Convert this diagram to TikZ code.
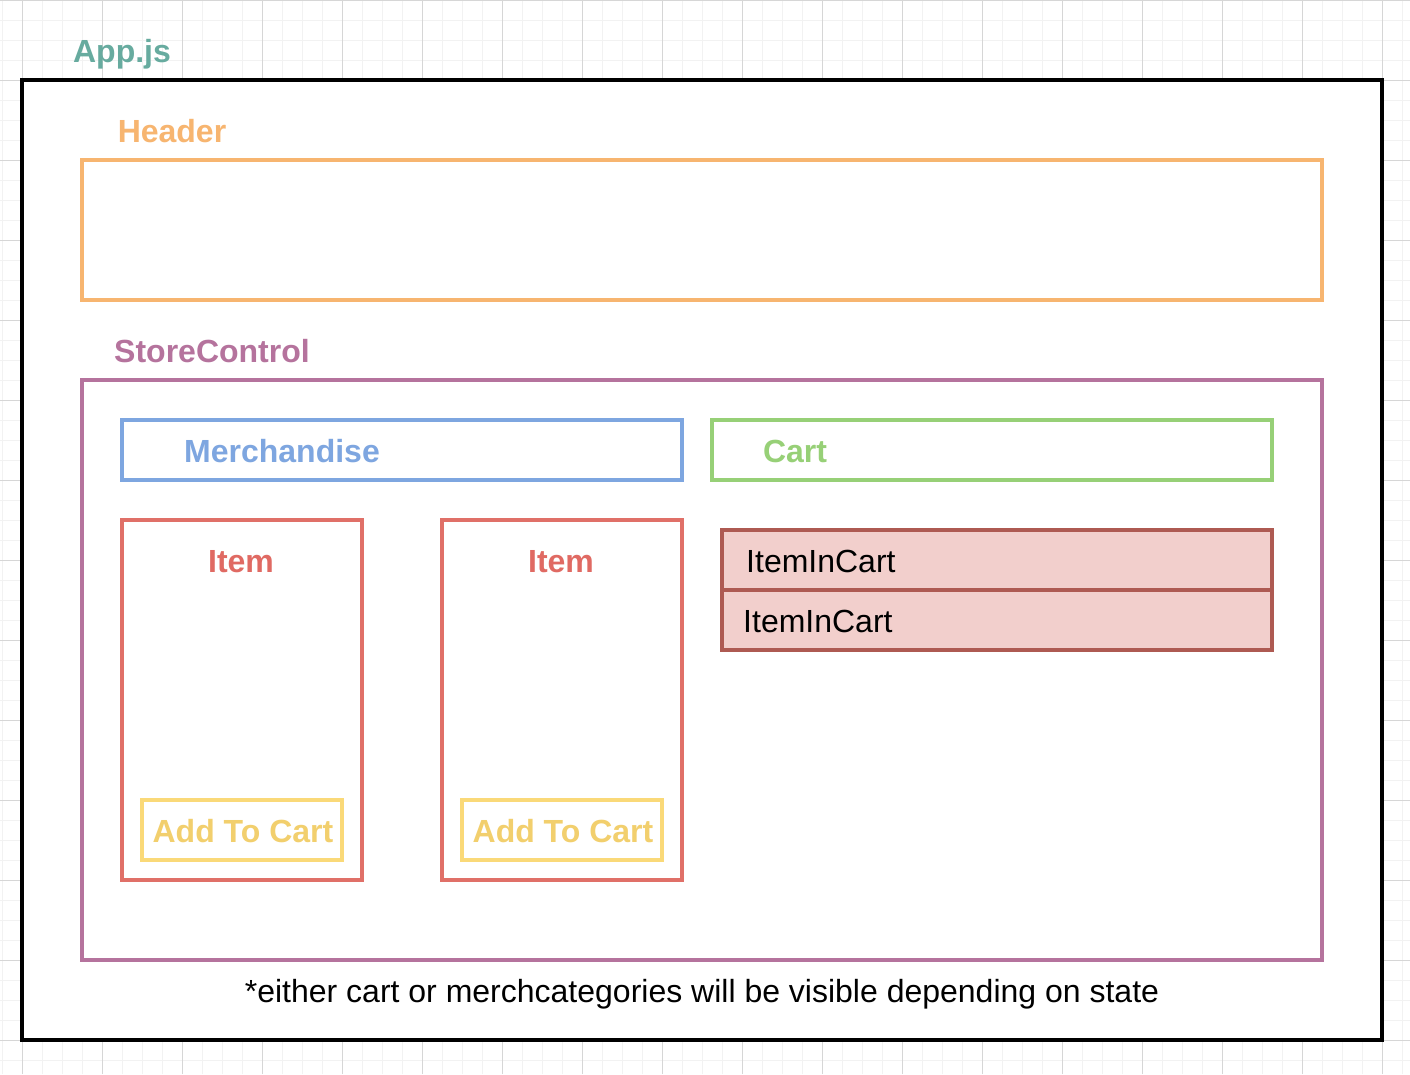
\documentclass[tikz,border=0pt]{standalone}
\usepackage{fontspec}
\setmainfont{Liberation Sans}
\definecolor{gridminor}{HTML}{F2F2F2}
\definecolor{gridmajor}{HTML}{D6D6D6}
\definecolor{appc}{HTML}{67AB9F}
\definecolor{headc}{HTML}{F7B570}
\definecolor{storec}{HTML}{B5739D}
\definecolor{merchc}{HTML}{7EA6E0}
\definecolor{cartc}{HTML}{97D077}
\definecolor{itemc}{HTML}{E07068}
\definecolor{itemtxt}{HTML}{E06A63}
\definecolor{addc}{HTML}{FAD978}
\definecolor{addtxt}{HTML}{F2CF6D}
\definecolor{iicfill}{HTML}{F2CFCC}
\definecolor{iicdraw}{HTML}{AE5A52}
\tikzset{
  box/.style={draw, line width=3.5pt, minimum width=#1, inner sep=0pt},
  lbl/.style={anchor=base, inner sep=0pt, font=\bfseries\fontsize{32}{38}\selectfont},
  plain/.style={anchor=base, inner sep=0pt, font=\fontsize{32}{38}\selectfont},
}
\begin{document}
\begin{tikzpicture}[x=1pt,y=-1pt]
\useasboundingbox (0,0) rectangle (1410,1074);
\fill[white] (0,0) rectangle (1410,1074);
% grid
\foreach \x in {2,22,...,1402} \draw[gridminor, line width=1pt] (\x,0) -- (\x,1074);
\foreach \y in {0,20,...,1074} \draw[gridminor, line width=1pt] (0,\y) -- (1410,\y);
\foreach \x in {22,102,...,1402} \draw[gridmajor, line width=1pt] (\x,0) -- (\x,1074);
\foreach \y in {0,80,...,1074} \draw[gridmajor, line width=1pt] (0,\y) -- (1410,\y);
% outer app
\node[draw=black, fill=white, line width=4pt, minimum width=1360pt, minimum height=960pt, inner sep=0pt] (app) at (702,560) {};
\node[lbl, text=appc] (applbl) at (122,62) {App.js};
% header
\node[box=1240pt, draw=headc, minimum height=140pt] (header) at (702,230) {};
\node[lbl, text=headc] (headlbl) at (172,142) {Header};
% store control
\node[box=1240pt, draw=storec, minimum height=580pt] (store) at (702,670) {};
\node[lbl, text=storec] (storelbl) at (212,362) {StoreControl};
% merchandise / cart
\node[box=560pt, draw=merchc, minimum height=60pt] (merch) at (402,450) {};
\node[lbl, text=merchc] (merchlbl) at (282,462) {Merchandise};
\node[box=560pt, draw=cartc, minimum height=60pt] (cart) at (992,450) {};
\node[lbl, text=cartc] (cartlbl) at (795,462) {Cart};
% items
\node[box=240pt, draw=itemc, minimum height=360pt] (item1) at (242,700) {};
\node[lbl, text=itemtxt] (item1lbl) at (241,572) {Item};
\node[box=240pt, draw=itemc, minimum height=360pt] (item2) at (562,700) {};
\node[lbl, text=itemtxt] (item2lbl) at (561,572) {Item};
\node[box=200pt, draw=addc, minimum height=60pt] (add1) at (242,830) {};
\node[lbl, text=addtxt] (add1lbl) at (243,842) {Add To Cart};
\node[box=200pt, draw=addc, minimum height=60pt] (add2) at (562,830) {};
\node[lbl, text=addtxt] (add2lbl) at (563,842) {Add To Cart};
% items in cart
\node[box=550pt, draw=iicdraw, fill=iicfill, minimum height=60pt] (iic1) at (997,560) {};
\node[box=550pt, draw=iicdraw, fill=iicfill, minimum height=60pt] (iic2) at (997,620) {};
\node[plain, anchor=base west] (iic1lbl) at (746,572) {ItemInCart};
\node[plain, anchor=base west] (iic2lbl) at (743,632) {ItemInCart};
% footnote
\node[plain] (note) at (702,1002) {*either cart or merchcategories will be visible depending on state};
\end{tikzpicture}
\end{document}
